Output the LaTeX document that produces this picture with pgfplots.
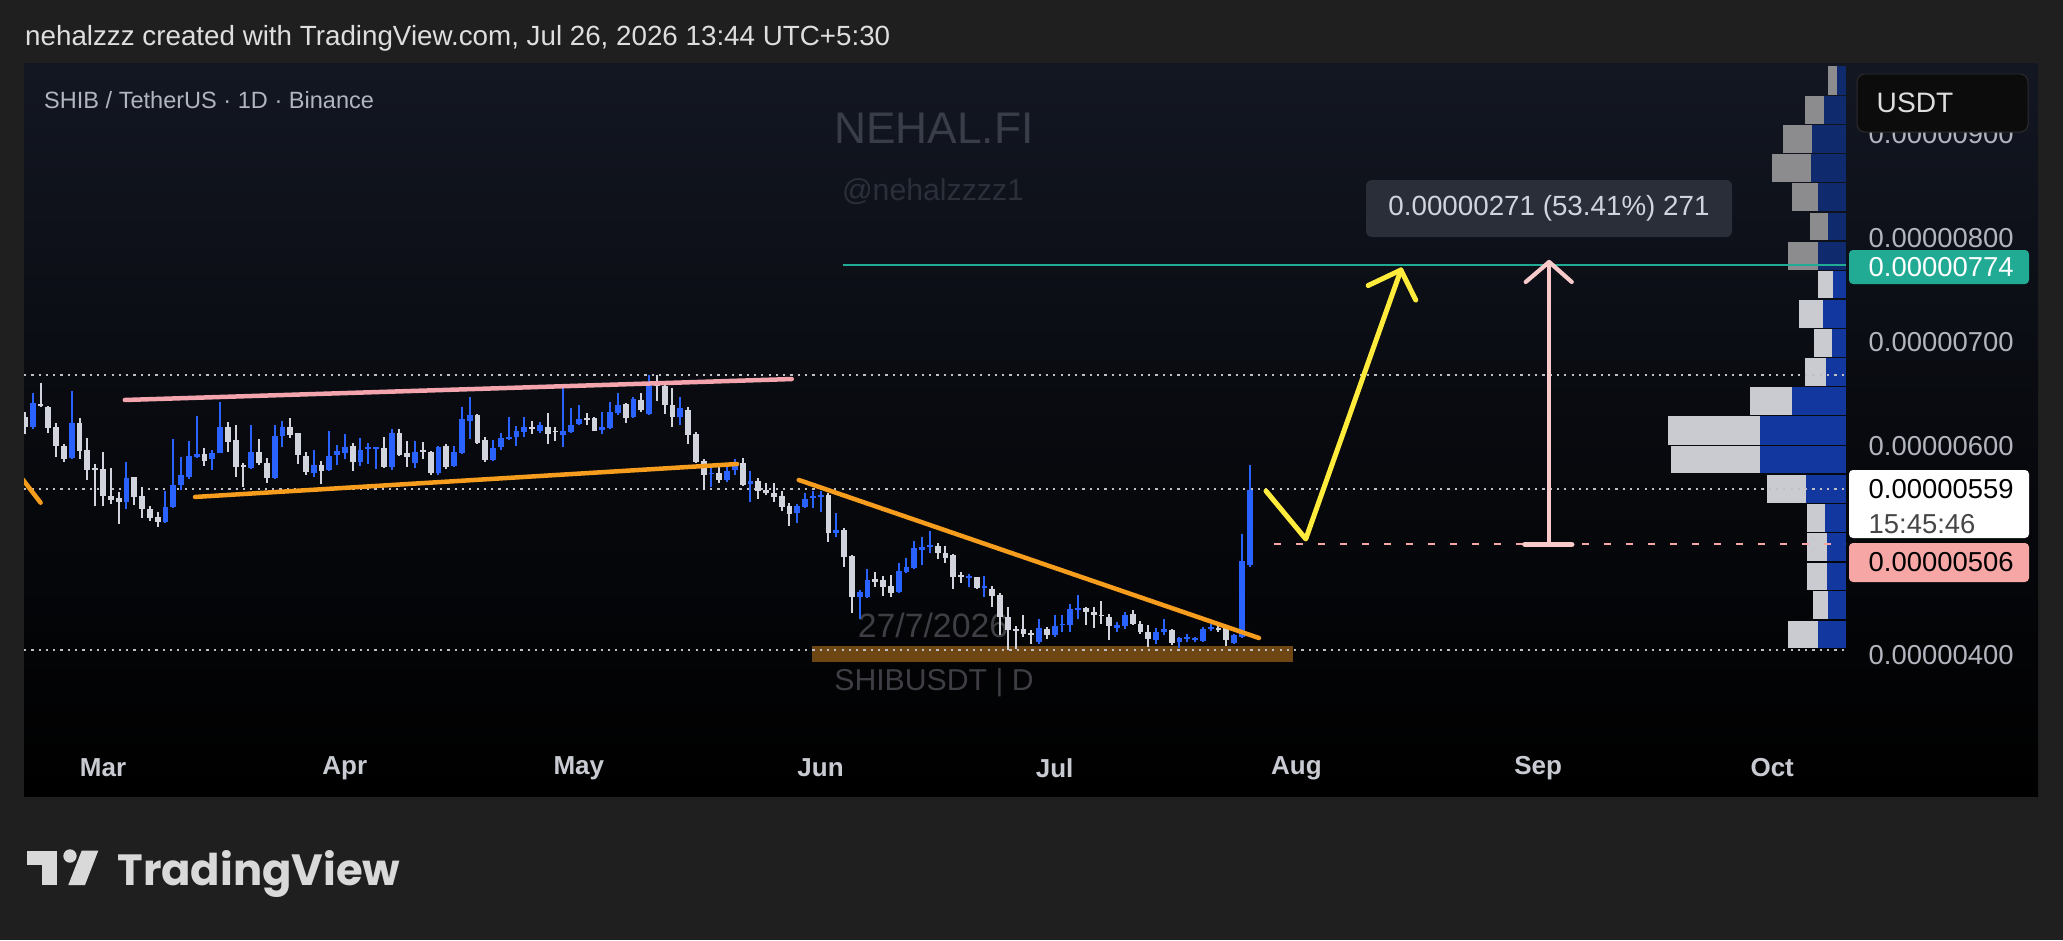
\documentclass[border=0pt]{standalone}
\usepackage{pgfplots}
\pgfplotsset{compat=1.18}
\usepackage{pgfplotstable}
\usepackage{fontspec}
\setmainfont{Liberation Sans}
\newfontfamily\logofont{Poppins}
\usetikzlibrary{calc}
\newcommand\fs[1]{\fontsize{#1}{#1}\selectfont}
\definecolor{outerbg}{RGB}{31,31,31}
\definecolor{paneltop}{RGB}{19,23,34}
\definecolor{panelmid}{RGB}{8,10,15}
\definecolor{upc}{RGB}{41,98,255}
\definecolor{downc}{RGB}{209,212,220}
\definecolor{axtxt}{RGB}{178,181,190}
\definecolor{monthc}{RGB}{200,203,210}
\definecolor{hdr}{RGB}{222,222,222}
\definecolor{wm}{RGB}{56,61,73}
\definecolor{wm2}{RGB}{42,47,58}
\definecolor{wm3}{RGB}{62,62,68}
\definecolor{pinkl}{RGB}{244,164,173}
\definecolor{orangel}{RGB}{247,157,30}
\definecolor{yell}{RGB}{255,235,59}
\definecolor{pinka}{RGB}{248,202,202}
\definecolor{tvgreen}{RGB}{34,171,148}
\definecolor{pinkbox}{RGB}{247,166,166}
\definecolor{brownz}{RGB}{110,70,20}
\definecolor{dotc}{RGB}{190,192,196}
\definecolor{vpga}{RGB}{140,140,142}
\definecolor{vpba}{RGB}{16,42,110}
\definecolor{vpgb}{RGB}{201,203,208}
\definecolor{vpbb}{RGB}{18,56,160}
\definecolor{boxbg}{RGB}{42,46,57}
\definecolor{logoc}{RGB}{217,217,217}

\pgfplotstableread{
d O H L C
-10 628.6 633.4 612.0 619.0
-9 619.0 651.6 616.4 641.4
-8 640.8 660.6 637.6 638.8
-7 638.2 638.8 612.6 617.4
-6 619.0 622.8 589.6 600.4
-5 600.4 602.4 585.4 587.6
-4 588.6 653.6 587.6 622.2
-3 622.2 627.0 587.6 596.0
-2 596.6 607.8 567.8 577.4
-1 579.0 582.8 543.2 577.4
0 578.0 595.0 543.2 552.4
1 552.4 579.0 544.4 548.6
2 550.8 556.6 525.6 547.0
3 547.0 585.4 539.6 569.4
4 570.4 571.0 543.8 551.2
5 552.4 560.8 531.0 539.6
6 539.6 542.8 528.8 531.0
7 532.6 537.4 522.4 527.8
8 527.8 557.6 526.8 541.6
9 541.6 607.2 540.6 563.0
10 563.0 589.6 558.2 572.6
11 571.0 605.2 568.4 590.8
12 589.6 629.6 588.6 592.8
13 592.8 598.2 581.2 586.4
14 587.6 596.6 577.4 593.4
15 594.0 643.0 593.4 618.4
16 618.4 623.8 595.0 604.6
17 606.2 620.6 570.4 580.6
18 582.2 584.4 561.4 580.6
19 579.0 620.6 578.0 595.0
20 595.0 606.8 582.2 584.4
21 583.8 588.6 564.6 569.4
22 569.4 620.6 568.4 610.0
23 610.0 624.8 599.2 618.4
24 618.4 627.0 607.8 611.0
25 612.6 613.2 583.2 591.8
26 590.8 595.0 572.6 575.8
27 574.8 596.6 570.4 582.2
28 582.2 586.0 564.0 576.8
29 577.4 614.8 576.8 590.8
30 591.8 601.4 582.2 595.8
31 594.0 611.6 587.6 599.2
32 600.4 603.6 576.8 585.4
33 585.4 607.8 581.2 596.6
34 597.2 603.6 583.2 599.2
35 597.8 599.6 578.0 599.2
36 598.2 609.4 579.5 580.6
37 580.6 616.4 577.4 613.2
38 612.6 616.4 590.8 591.8
39 593.4 605.6 580.6 589.6
40 584.4 605.6 579.0 595.0
41 596.6 604.6 587.6 595.0
42 595.0 596.0 572.6 574.2
43 574.8 600.4 572.6 599.2
44 600.4 602.4 578.0 580.0
45 581.2 600.4 580.0 595.0
46 594.0 638.2 592.8 626.0
47 624.8 647.8 606.8 630.2
48 630.2 631.2 602.4 603.6
49 606.2 609.4 585.4 587.0
50 587.0 606.2 586.4 598.2
51 599.2 613.2 596.6 607.8
52 606.8 628.0 606.2 609.4
53 608.8 619.6 600.4 615.2
54 614.2 628.0 609.4 619.0
55 619.0 624.4 612.0 616.4
56 615.2 623.8 613.2 620.6
57 619.0 632.4 602.4 612.0
58 615.2 619.0 605.6 613.8
59 611.0 655.8 599.2 615.2
60 614.2 636.6 613.2 620.6
61 621.6 639.8 620.6 626.0
62 627.0 631.8 620.6 625.4
63 627.0 628.0 614.5 615.2
64 615.8 633.4 612.0 618.4
65 617.4 643.0 616.4 633.4
66 631.8 651.6 630.2 639.8
67 640.8 641.4 622.8 627.0
68 628.6 647.8 627.0 645.2
69 644.6 651.0 633.4 635.0
70 631.2 668.6 630.2 660.0
71 660.0 668.6 644.0 658.0
72 658.0 662.2 631.2 639.8
73 639.8 655.8 619.0 628.0
74 628.0 647.8 620.6 636.6
75 635.0 638.2 602.4 611.0
76 612.0 614.2 584.4 585.4
77 586.4 587.6 558.2 572.6
78 573.6 583.2 561.4 574.8
79 574.2 580.0 565.2 567.8
80 567.8 581.2 566.2 576.8
81 577.4 587.6 572.6 585.4
82 583.8 588.6 562.0 563.0
83 564.0 576.8 547.0 567.2
84 567.2 569.4 549.2 557.6
85 558.2 565.2 553.4 555.0
86 555.0 565.2 547.0 551.2
87 552.4 557.6 538.4 541.6
88 542.8 545.4 523.6 535.2
89 535.8 544.8 526.8 542.8
90 542.2 555.6 540.6 549.2
91 550.2 557.6 540.6 552.4
92 551.8 557.6 537.4 553.4
93 553.4 555.0 508.6 517.2
94 516.6 535.8 513.4 519.8
95 519.9 521.5 484.7 494.3
96 494.9 495.9 440.6 455.3
97 456.0 462.3 435.0 460.7
98 455.3 482.2 454.3 472.0
99 472.6 480.0 464.9 470.3
100 472.0 475.8 456.6 465.5
101 466.2 476.7 456.0 459.8
102 460.7 487.9 459.8 480.9
103 479.9 492.7 478.3 484.7
104 483.1 509.6 482.2 502.3
105 500.7 512.8 486.3 503.9
106 503.9 519.2 498.2 505.5
107 504.5 507.7 491.7 497.5
108 497.5 504.5 487.9 492.7
109 495.9 496.9 463.0 475.1
110 476.7 480.0 468.7 475.1
111 474.5 477.7 465.5 475.8
112 474.5 475.1 463.0 463.9
113 463.9 475.8 456.0 466.2
114 463.0 466.2 446.3 456.6
115 457.5 459.1 419.2 436.8
116 436.8 445.7 404.8 424.0
117 424.6 427.8 405.4 423.3
118 424.6 438.4 417.6 420.1
119 421.4 424.0 410.5 419.2
120 412.8 434.2 410.5 425.6
121 425.4 427.0 415.2 419.0
122 419.0 438.2 417.4 428.0
123 428.6 438.2 422.2 430.2
124 428.6 449.4 422.2 444.0
125 443.0 457.4 435.0 445.2
126 445.2 446.2 428.6 441.4
127 441.4 446.2 426.2 438.8
128 438.8 451.6 430.2 437.6
129 436.6 439.8 414.2 428.0
130 426.2 431.2 422.2 428.6
131 428.0 440.8 425.4 438.8
132 439.8 443.0 429.2 430.2
133 430.2 432.4 420.6 422.2
134 422.2 429.2 407.8 415.8
135 414.2 426.2 411.0 422.2
136 422.2 434.4 419.0 424.8
137 423.8 424.8 409.6 411.2
138 412.8 417.6 407.0 416.0
139 415.2 420.6 412.8 417.6
140 414.2 417.6 412.2 416.6
141 413.4 427.0 412.2 424.8
142 424.8 430.2 423.0 427.0
143 425.8 428.0 422.4 424.8
144 426.0 427.0 408.8 414.2
145 411.2 420.6 410.2 419.0
146 417.6 515.8 416.6 490.2
147 486.2 582.2 484.6 558.2
}\candles

% volume profile rows: top bottom grayleft blueleft graycolour bluecolour
\newcommand\vprow[6]{%
  \addplot[draw=none, fill=#5, forget plot] coordinates {(#3,#1) (#4,#1) (#4,#2) (#3,#2)} -- cycle;
  \addplot[draw=none, fill=#6, forget plot] coordinates {(#4,#1) (223.46,#1) (223.46,#2) (#4,#2)} -- cycle;
}

\begin{document}
\begin{tikzpicture}[x=1cm,y=1cm]
\fill[outerbg] (0,0) rectangle (20.63,9.40);
\shade[top color=paneltop, bottom color=black, middle color=panelmid] (0.24,1.44) rectangle (20.38,8.77);

% header and watermarks
\node[anchor=base west, inner sep=0pt, text=hdr, font=\fs{7.9}] at (0.245,8.95) {nehalzzz created with TradingView.com, Jul 26, 2026 13:44 UTC+5:30};
\node[anchor=base west, inner sep=0pt, text=axtxt, font=\fs{6.7}] at (0.435,8.317) {SHIB / TetherUS · 1D · Binance};
\node[anchor=base, inner sep=0pt, text=wm, font=\fs{12.6}] at (9.34,7.967) {NEHAL.FI};
\node[anchor=base, inner sep=0pt, text=wm2, font=\fs{8.6}] at (9.33,7.40) {@nehalzzzz1};
\node[anchor=base, inner sep=0pt, text=wm3, font=\fs{9.6}] at (9.33,3.03) {27/7/2026};
\node[anchor=base, inner sep=0pt, text=wm3, font=\fs{8.6}] at (9.34,2.50) {SHIBUSDT | D};

\begin{axis}[
  at={(0.24cm,1.44cm)}, anchor=south west, scale only axis,
  width=18.22cm, height=7.33cm,
  xmin=-10.128, xmax=223.46, ymin=264.75, ymax=967.85,
  axis line style={draw=none}, major tick length=0pt,
  xtick={0,31,61,92,122,153,184,214},
  xticklabels={Mar,Apr,May,Jun,Jul,Aug,Sep,Oct},
  xticklabel style={anchor=center, yshift=0.28cm, font=\bfseries\fs{7.4}, text=monthc},
  ytick={400,600,700,800,900},
  yticklabels={0.00000400,0.00000600,0.00000700,0.00000800,0.00000900},
  yticklabel pos=right,
  yticklabel style={anchor=west, xshift=0.22cm, inner sep=0pt, font=\fs{7.8}, text=axtxt},
  clip mode=individual,
  candle/.style={draw=none, mark=none, forget plot,
    error bars/y dir=both, error bars/y explicit, error bars/error mark=none},
]
% volume profile
\vprow{964.6}{937.3}{221.2}{222.3}{vpga}{vpba}
\vprow{936.1}{909.7}{218.2}{220.6}{vpga}{vpba}
\vprow{908.5}{881.6}{215.4}{219.1}{vpga}{vpba}
\vprow{880.4}{853.9}{214.0}{219.0}{vpga}{vpba}
\vprow{852.7}{825.5}{216.5}{219.9}{vpga}{vpba}
\vprow{824.3}{797.8}{218.8}{221.2}{vpga}{vpba}
\vprow{796.6}{769.7}{216.0}{219.9}{vpga}{vpba}
\vprow{768.5}{742.1}{219.9}{221.8}{vpgb}{vpbb}
\vprow{740.9}{713.6}{217.4}{220.5}{vpgb}{vpbb}
\vprow{712.4}{686.0}{219.4}{221.7}{vpgb}{vpbb}
\vprow{684.8}{657.9}{218.2}{220.9}{vpgb}{vpbb}
\vprow{656.7}{630.2}{211.2}{216.5}{vpgb}{vpbb}
\vprow{629.0}{601.8}{200.6}{212.4}{vpgb}{vpbb}
\vprow{600.6}{574.1}{201.0}{212.4}{vpgb}{vpbb}
\vprow{572.9}{546.0}{213.3}{218.3}{vpgb}{vpbb}
\vprow{544.8}{518.4}{218.5}{220.8}{vpgb}{vpbb}
\vprow{517.2}{489.9}{218.5}{221.0}{vpgb}{vpbb}
\vprow{488.7}{462.3}{218.5}{221.0}{vpgb}{vpbb}
\vprow{461.1}{434.2}{219.2}{221.2}{vpgb}{vpbb}
\vprow{433.0}{406.5}{216.0}{219.9}{vpgb}{vpbb}

% support zone
\addplot[draw=none, fill=brownz] coordinates {(90.9,408.6) (152.6,408.6) (152.6,393.3) (90.9,393.3)} -- cycle;

% dotted levels
\addplot[dotc, line width=0.022cm, dash pattern=on 0.022cm off 0.051cm] coordinates {(-10.128,668.6) (223.46,668.6)};
\addplot[dotc, line width=0.022cm, dash pattern=on 0.022cm off 0.051cm] coordinates {(-10.128,559) (223.46,559)};
\addplot[dotc, line width=0.022cm, dash pattern=on 0.022cm off 0.051cm] coordinates {(-10.128,405) (223.46,405)};

% target & entry levels
\addplot[tvgreen, line width=0.018cm] coordinates {(94.9,774) (223.46,774)};
\addplot[pinkbox, line width=0.02cm, dash pattern=on 0.07cm off 0.15cm] coordinates {(150.1,506) (223.46,506)};

% candles: wicks
\addplot[candle, restrict expr to domain={\thisrow{C}-\thisrow{O}}{0:10000},
  error bars/error bar style={draw=upc, solid, line width=0.019cm}]
  table[x=d, y expr={(\thisrow{H}+\thisrow{L})/2}, y error expr={(\thisrow{H}-\thisrow{L})/2}] {\candles};
\addplot[candle, restrict expr to domain={\thisrow{O}-\thisrow{C}}{0.0001:10000},
  error bars/error bar style={draw=downc, solid, line width=0.019cm}]
  table[x=d, y expr={(\thisrow{H}+\thisrow{L})/2}, y error expr={(\thisrow{H}-\thisrow{L})/2}] {\candles};
% candles: bodies
\addplot[candle, restrict expr to domain={\thisrow{C}-\thisrow{O}}{0:10000},
  error bars/error bar style={draw=upc, solid, line width=0.058cm}]
  table[x=d, y expr={(\thisrow{O}+\thisrow{C})/2}, y error expr={max(abs(\thisrow{C}-\thisrow{O})/2,0.6)}] {\candles};
\addplot[candle, restrict expr to domain={\thisrow{O}-\thisrow{C}}{0.0001:10000},
  error bars/error bar style={draw=downc, solid, line width=0.058cm}]
  table[x=d, y expr={(\thisrow{O}+\thisrow{C})/2}, y error expr={max(abs(\thisrow{C}-\thisrow{O})/2,0.6)}] {\candles};

% trend lines
\addplot[pinkl, line width=0.045cm, line cap=round] coordinates {(2.8,644.6) (88.3,664.7)};
\addplot[orangel, line width=0.045cm, line cap=round] coordinates {(11.8,551.6) (81.3,583.2)};
\addplot[orangel, line width=0.045cm, line cap=round] coordinates {(-10.3,568.5) (-8.0,546.1)};
\addplot[orangel, line width=0.045cm, line cap=round] coordinates {(89.2,567.9) (148.2,416.3)};

% projected path
\addplot[yell, line width=0.05cm, line cap=round, line join=round] coordinates {(149.1,557.3) (154.2,511.3) (166.4,769.3)};
\addplot[yell, line width=0.05cm, line cap=round, line join=round] coordinates {(162.2,754.4) (166.4,769.3) (168.3,740.5)};

% measure arrow
\addplot[pinka, line width=0.042cm, line cap=round] coordinates {(185.4,506) (185.4,777)};
\addplot[pinka, line width=0.042cm, line cap=round, line join=round] coordinates {(182.4,757.8) (185.4,777) (188.3,757.8)};
\addplot[pinka, line width=0.055cm, line cap=round] coordinates {(182.3,506) (188.3,506)};
\end{axis}

% price label boxes
\fill[tvgreen, rounded corners=0.04cm] (18.49,6.56) rectangle (20.29,6.90);
\node[anchor=west, inner sep=0pt, text=white, font=\fs{7.8}] at (18.68,6.73) {0.00000774};
\fill[white, rounded corners=0.04cm] (18.49,4.02) rectangle (20.29,4.70);
\node[anchor=west, inner sep=0pt, text=black, font=\fs{7.8}] at (18.68,4.51) {0.00000559};
\node[anchor=west, inner sep=0pt, text={rgb,255:red,70;green,70;blue,70}, font=\fs{7.8}] at (18.68,4.16) {15:45:46};
\fill[pinkbox, rounded corners=0.04cm] (18.49,3.58) rectangle (20.29,3.97);
\node[anchor=west, inner sep=0pt, text=black, font=\fs{7.8}] at (18.68,3.775) {0.00000506};
% currency box
\filldraw[fill={rgb,255:red,12;green,12;blue,12}, draw={rgb,255:red,44;green,44;blue,46}, line width=0.01cm, rounded corners=0.08cm] (18.57,8.08) rectangle (20.28,8.66);
\node[anchor=west, inner sep=0pt, text=hdr, font=\fs{8.0}] at (18.76,8.37) {USDT};
% measure label
\fill[boxbg, rounded corners=0.06cm] (13.66,7.03) rectangle (17.32,7.60);
\node[inner sep=0pt, text=downc, font=\fs{7.9}] at (15.49,7.315) {0.00000271 (53.41\%) 271};

% logo
\fill[logoc] (0.273,0.75) rectangle (0.567,0.893);
\fill[logoc] (0.417,0.55) rectangle (0.567,0.893);
\fill[logoc] (0.70,0.84) circle (0.067);
\fill[logoc] (0.817,0.893) -- (0.983,0.893) -- (0.85,0.55) -- (0.683,0.55) -- cycle;
\node[anchor=base west, inner sep=0pt, text=logoc] at (1.167,0.55) {\resizebox{2.83cm}{0.35cm}{\logofont\bfseries TradingView}};
\end{tikzpicture}
\end{document}
